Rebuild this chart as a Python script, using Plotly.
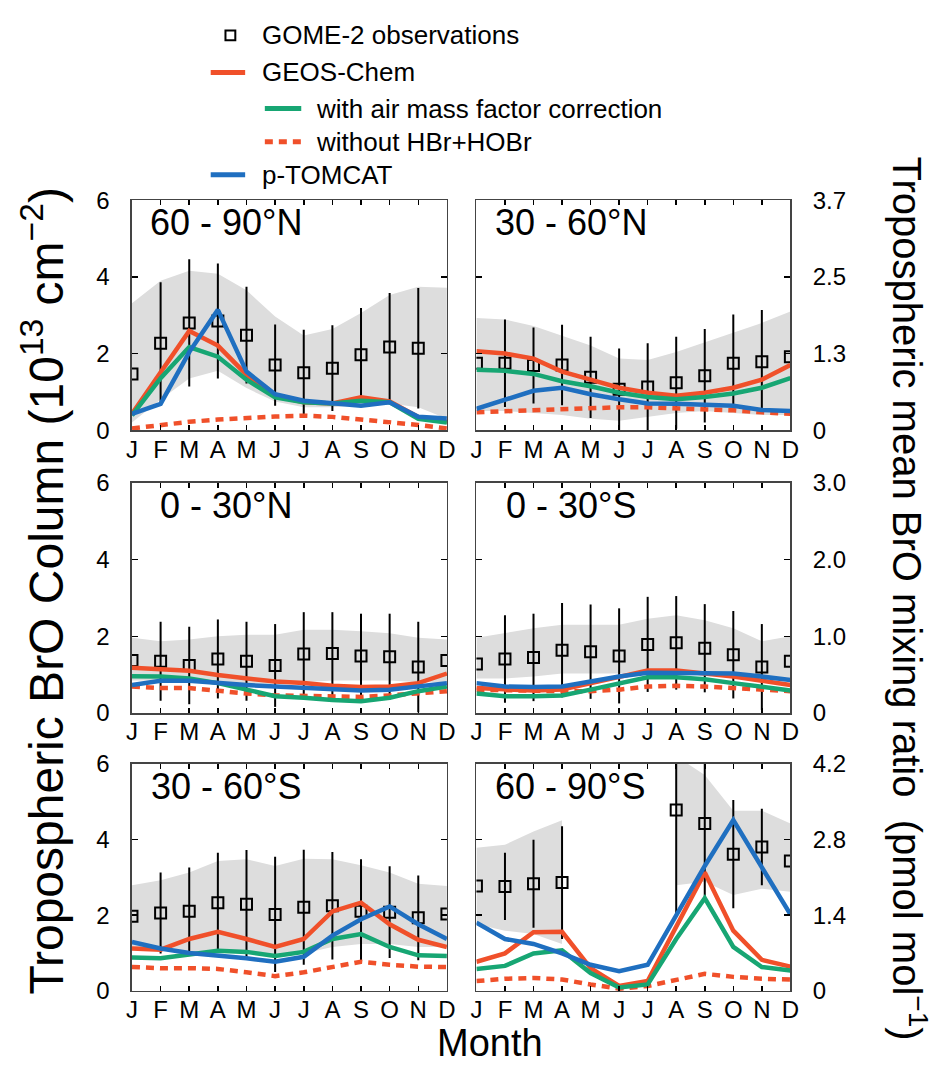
import plotly.graph_objects as go

# ---------------- data ----------------
months = list(range(1, 13))
month_labels = ["J", "F", "M", "A", "M", "J", "J", "A", "S", "O", "N", "D"]
left_ticks = ["0", "2", "4", "6"]
right_ticks_top = ["0", "1.3", "2.5", "3.7"]
right_ticks_mid = ["0", "1.0", "2.0", "3.0"]
right_ticks_bot = ["0", "1.4", "2.8", "4.2"]

region_names = ["60 - 90°N", "30 - 60°N", "0 - 30°N", "0 - 30°S", "30 - 60°S", "60 - 90°S"]

# GOME-2 observations (10^13 cm^-2) and their spread
obs_n6090 = [1.47, 2.27, 2.80, 2.85, 2.48, 1.70, 1.50, 1.62, 1.97, 2.17, 2.14, None]
err_n6090 = [0, 1.59, 1.66, 1.50, 1.26, 1.06, 1.12, 1.12, 1.22, 1.41, 1.57, 0]
hi_n6090 = [3.31, 3.90, 4.16, 4.08, 3.65, 2.97, 2.47, 2.64, 3.06, 3.53, 3.74, 3.72]
lo_n6090 = [0.20, 0.80, 1.35, 1.55, 1.10, 0.75, 0.60, 0.60, 0.65, 0.70, 0.60, 0.30]

obs_n3060 = [1.75, 1.75, 1.69, 1.70, 1.38, 1.07, 1.13, 1.24, 1.42, 1.75, 1.79, 1.92]
err_n3060 = [0, 1.14, 0.99, 1.05, 1.06, 1.06, 1.14, 1.20, 1.22, 1.27, 1.35, 0]
hi_n3060 = [2.93, 2.89, 2.72, 2.47, 2.21, 1.87, 1.83, 2.04, 2.30, 2.55, 2.80, 3.10]
lo_n3060 = [0.50, 0.50, 0.45, 0.40, 0.30, 0.25, 0.35, 0.45, 0.50, 0.45, 0.40, 0.40]

obs_n0030 = [1.37, 1.35, 1.24, 1.41, 1.35, 1.24, 1.54, 1.55, 1.49, 1.47, 1.20, 1.37]
err_n0030 = [0, 1.03, 1.01, 1.03, 1.03, 1.08, 1.09, 1.08, 1.10, 1.12, 1.18, 0]
hi_n0030 = [1.96, 1.87, 1.92, 2.00, 2.04, 2.04, 2.17, 2.17, 2.13, 2.08, 1.96, 1.92]
lo_n0030 = [0.85, 0.85, 0.85, 0.80, 0.75, 0.75, 0.80, 0.85, 0.85, 0.85, 0.80, 0.80]

obs_s0030 = [1.28, 1.41, 1.45, 1.64, 1.60, 1.49, 1.79, 1.83, 1.69, 1.52, 1.20, 1.35]
err_s0030 = [0, 1.14, 1.14, 1.23, 1.23, 1.24, 1.24, 1.22, 1.15, 1.14, 1.12, 0]
hi_s0030 = [1.96, 2.08, 2.21, 2.30, 2.30, 2.30, 2.46, 2.55, 2.42, 2.21, 1.87, 2.00]
lo_s0030 = [0.90, 0.90, 0.95, 1.03, 1.03, 1.03, 1.11, 1.11, 1.07, 1.03, 0.90, 0.90]

obs_s3060 = [1.97, 2.06, 2.10, 2.33, 2.29, 2.02, 2.21, 2.25, 2.10, 2.08, 1.93, 2.03]
err_s3060 = [0, 1.07, 1.16, 1.32, 1.43, 1.52, 1.52, 1.42, 1.38, 1.21, 1.12, 0]
hi_s3060 = [2.79, 2.92, 3.13, 3.43, 3.48, 3.30, 3.49, 3.48, 3.32, 3.13, 2.83, 2.77]
lo_s3060 = [1.16, 1.12, 1.03, 1.03, 1.00, 0.90, 0.99, 1.16, 1.24, 1.24, 1.16, 1.16]

obs_s6090 = [2.77, 2.76, 2.83, 2.86, None, None, None, 4.78, 4.42, 3.61, 3.80, 3.43]
err_s6090 = [0, 0.89, 1.16, 1.49, 0, 0, 0, 2.75, 1.93, 1.43, 1.01, 0]
hi_s6090 = [3.78, 3.86, 4.21, 4.51, None, None, None, 6.20, 5.70, 4.76, 4.76, 4.42]
lo_s6090 = [1.76, 1.59, 1.50, 1.24, None, None, None, 2.79, 2.88, 2.53, 2.70, 2.62]

# GEOS-Chem
geos_n6090 = [0.43, 1.53, 2.59, 2.21, 1.45, 0.90, 0.73, 0.70, 0.86, 0.75, 0.35, 0.22]
geos_n3060 = [2.06, 2.00, 1.87, 1.53, 1.32, 1.11, 0.98, 0.90, 0.98, 1.11, 1.32, 1.70]
geos_n0030 = [1.18, 1.13, 1.10, 0.99, 0.90, 0.82, 0.78, 0.71, 0.68, 0.69, 0.78, 1.03]
geos_s0030 = [0.65, 0.61, 0.59, 0.61, 0.78, 0.95, 1.11, 1.11, 1.03, 0.95, 0.84, 0.73]
geos_s3060 = [1.12, 1.09, 1.37, 1.56, 1.37, 1.16, 1.37, 2.10, 2.33, 1.76, 1.35, 1.16]
geos_s6090 = [0.77, 0.99, 1.55, 1.56, 0.60, 0.13, 0.26, 1.67, 3.13, 1.59, 0.82, 0.64]

# GEOS-Chem with air mass factor correction
amf_n6090 = [0.39, 1.36, 2.17, 1.92, 1.32, 0.86, 0.73, 0.70, 0.77, 0.73, 0.30, 0.20]
amf_n3060 = [1.58, 1.55, 1.47, 1.28, 1.15, 0.98, 0.87, 0.81, 0.87, 0.96, 1.11, 1.36]
amf_n0030 = [0.96, 0.95, 0.90, 0.78, 0.61, 0.44, 0.40, 0.34, 0.31, 0.40, 0.57, 0.69]
amf_s0030 = [0.51, 0.44, 0.44, 0.46, 0.61, 0.78, 0.93, 0.93, 0.88, 0.78, 0.69, 0.59]
amf_s3060 = [0.88, 0.86, 0.96, 1.06, 1.03, 0.92, 1.03, 1.37, 1.50, 1.16, 0.94, 0.92]
amf_s6090 = [0.58, 0.66, 0.99, 1.07, 0.47, 0.09, 0.17, 1.37, 2.45, 1.16, 0.63, 0.54]

# GEOS-Chem without HBr+HOBr
nohbr_n6090 = [0.05, 0.14, 0.22, 0.28, 0.33, 0.36, 0.38, 0.35, 0.28, 0.22, 0.14, 0.05]
nohbr_n3060 = [0.47, 0.50, 0.52, 0.56, 0.58, 0.60, 0.60, 0.58, 0.56, 0.52, 0.47, 0.43]
nohbr_n0030 = [0.69, 0.65, 0.65, 0.57, 0.51, 0.46, 0.44, 0.42, 0.42, 0.46, 0.51, 0.57]
nohbr_s0030 = [0.61, 0.59, 0.57, 0.57, 0.57, 0.61, 0.69, 0.71, 0.69, 0.65, 0.61, 0.57]
nohbr_s3060 = [0.63, 0.60, 0.60, 0.58, 0.49, 0.39, 0.49, 0.63, 0.77, 0.69, 0.64, 0.63]
nohbr_s6090 = [0.26, 0.32, 0.34, 0.30, 0.17, 0.06, 0.13, 0.30, 0.45, 0.37, 0.32, 0.30]

# p-TOMCAT
tomcat_n6090 = [0.43, 0.69, 2.04, 3.14, 1.53, 0.94, 0.77, 0.70, 0.64, 0.73, 0.35, 0.31]
tomcat_n3060 = [0.56, 0.81, 1.03, 1.11, 0.94, 0.81, 0.70, 0.69, 0.67, 0.64, 0.53, 0.50]
tomcat_n0030 = [0.73, 0.84, 0.84, 0.78, 0.73, 0.69, 0.65, 0.61, 0.59, 0.61, 0.69, 0.78]
tomcat_s0030 = [0.78, 0.69, 0.68, 0.69, 0.82, 0.95, 1.05, 1.05, 1.03, 1.03, 0.95, 0.86]
tomcat_s3060 = [1.29, 1.12, 1.00, 0.94, 0.86, 0.77, 0.90, 1.46, 1.89, 2.23, 1.76, 1.37]
tomcat_s6090 = [1.80, 1.37, 1.24, 0.99, 0.69, 0.52, 0.69, 1.97, 3.30, 4.51, 3.26, 2.02]

panels = [
    (obs_n6090, err_n6090, hi_n6090, lo_n6090, geos_n6090, amf_n6090, nohbr_n6090, tomcat_n6090),
    (obs_n3060, err_n3060, hi_n3060, lo_n3060, geos_n3060, amf_n3060, nohbr_n3060, tomcat_n3060),
    (obs_n0030, err_n0030, hi_n0030, lo_n0030, geos_n0030, amf_n0030, nohbr_n0030, tomcat_n0030),
    (obs_s0030, err_s0030, hi_s0030, lo_s0030, geos_s0030, amf_s0030, nohbr_s0030, tomcat_s0030),
    (obs_s3060, err_s3060, hi_s3060, lo_s3060, geos_s3060, amf_s3060, nohbr_s3060, tomcat_s3060),
    (obs_s6090, err_s6090, hi_s6090, lo_s6090, geos_s6090, amf_s6090, nohbr_s6090, tomcat_s6090),
]
right_ticks = [right_ticks_top, right_ticks_mid, right_ticks_bot]

# ---------------- styling ----------------
W, H = 947, 1077
RED = "#F0502A"
GREEN = "#17A673"
BLUE = "#1F6FC0"
BAND = "#DDDDDD"
FONT = "Liberation Sans, Arial, Helvetica, sans-serif"


def px(x):
    return x / W


def py(y):
    return 1 - y / H


col_x = [(128, 448), (478, 797)]
row_y = [(191, 427), (481, 717), (769, 1002)]

fig = go.Figure()

for i, (obs, err, hi, lo, geos, amf, nohbr, tomcat) in enumerate(panels):
    r, c = divmod(i, 2)
    xa = "x" if i == 0 else f"x{i+1}"
    ya = "y" if i == 0 else f"y{i+1}"

    # gray spread band: one polygon per contiguous run of months
    seg = []
    segments = []
    for m, h, l in zip(months, hi, lo):
        if h is None:
            if seg:
                segments.append(seg)
            seg = []
        else:
            seg.append((m, h, l))
    if seg:
        segments.append(seg)
    for s in segments:
        bx = [p[0] for p in s] + [p[0] for p in reversed(s)]
        by = [p[1] for p in s] + [p[2] for p in reversed(s)]
        fig.add_trace(go.Scatter(x=bx, y=by, xaxis=xa, yaxis=ya, mode="lines",
                                 fill="toself", fillcolor=BAND, line=dict(width=0),
                                 hoverinfo="skip", showlegend=False))

    # observations
    fig.add_trace(go.Scatter(x=months, y=obs, xaxis=xa, yaxis=ya, mode="markers",
                             marker=dict(symbol="square-open", size=11, color="black",
                                         line=dict(width=2, color="black")),
                             error_y=dict(type="data", array=err, symmetric=True,
                                          color="black", thickness=2, width=0),
                             showlegend=False))
    # models
    fig.add_trace(go.Scatter(x=months, y=nohbr, xaxis=xa, yaxis=ya, mode="lines",
                             line=dict(color=RED, width=4.5, dash="8px,6px"), showlegend=False))
    fig.add_trace(go.Scatter(x=months, y=geos, xaxis=xa, yaxis=ya, mode="lines",
                             line=dict(color=RED, width=4.5), showlegend=False))
    fig.add_trace(go.Scatter(x=months, y=amf, xaxis=xa, yaxis=ya, mode="lines",
                             line=dict(color=GREEN, width=4.5), showlegend=False))
    fig.add_trace(go.Scatter(x=months, y=tomcat, xaxis=xa, yaxis=ya, mode="lines",
                             line=dict(color=BLUE, width=4.5), showlegend=False))

    x0, x1 = col_x[c]
    y0, y1 = row_y[r]
    xkey = "xaxis" if i == 0 else f"xaxis{i+1}"
    ykey = "yaxis" if i == 0 else f"yaxis{i+1}"
    fig.layout[xkey] = dict(domain=[px(x0), px(x1)], anchor=ya, range=[1, 12],
                            tickmode="array", tickvals=months, ticktext=month_labels,
                            ticks="inside", ticklen=5, tickwidth=1.5, tickcolor="black",
                            showline=True, linecolor="#444444", linewidth=1.5,
                            mirror="ticks", showgrid=False, zeroline=False,
                            tickfont=dict(family=FONT, size=24, color="black"),
                            ticklabelstandoff=-3, fixedrange=True)
    ydict = dict(domain=[py(y1), py(y0)], anchor=xa, range=[0, 6],
                 tickmode="array", tickvals=[0, 2, 4, 6],
                 ticks="inside", ticklen=6, tickwidth=1.5, tickcolor="black",
                 showline=True, linecolor="#444444", linewidth=1.5,
                 mirror="ticks", showgrid=False, zeroline=False,
                 tickfont=dict(family=FONT, size=24, color="black"),
                 ticklabelstandoff=16, fixedrange=True)
    if c == 0:
        ydict.update(side="left", ticktext=left_ticks)
    else:
        ydict.update(side="right", ticktext=right_ticks[r])
    fig.layout[ykey] = ydict

    # region label
    fig.add_annotation(x=px(x0 + 96), y=py(y0 + 23), xref="paper", yref="paper",
                       text=region_names[i], showarrow=False, xanchor="center",
                       yanchor="middle", font=dict(family=FONT, size=36, color="black"))

# axis titles
fig.add_annotation(x=px(38), y=py(592), xref="paper", yref="paper", showarrow=False,
                   text="Tropospheric BrO Column (10<sup>13</sup> cm<sup>−2</sup>)",
                   textangle=-90, xanchor="center", yanchor="middle",
                   font=dict(family=FONT, size=48, color="black"))
fig.add_annotation(x=px(918), y=py(600), xref="paper", yref="paper", showarrow=False,
                   text="Tropospheric mean BrO mixing ratio  (pmol mol<sup>−1</sup>)",
                   textangle=90, xanchor="center", yanchor="middle",
                   font=dict(family=FONT, size=40, color="black"))
fig.add_annotation(x=px(492), y=py(1055), xref="paper", yref="paper", showarrow=False,
                   text="Month", xanchor="center", yanchor="middle",
                   font=dict(family=FONT, size=38, color="black"))

# legend (drawn manually to reproduce the indented layout)
legend_rows = [
    ("GOME-2 observations", 258, 22, "square", None),
    ("GEOS-Chem", 258, 60, "line", RED),
    ("with air mass factor correction", 313, 97, "line2", GREEN),
    ("without HBr+HOBr", 313, 131, "dash2", RED),
    ("p-TOMCAT", 258, 165, "line", BLUE),
]
for text, tx, ty, kind, colr in legend_rows:
    fig.add_annotation(x=px(tx), y=py(ty), xref="paper", yref="paper", showarrow=False,
                       text=text, xanchor="left", yanchor="middle",
                       font=dict(family=FONT, size=26, color="black"))
    if kind == "square":
        fig.add_shape(type="rect", xref="paper", yref="paper",
                      x0=px(223), x1=px(233), y0=py(ty + 5), y1=py(ty - 5),
                      line=dict(color="black", width=2))
    elif kind == "line":
        fig.add_shape(type="line", xref="paper", yref="paper",
                      x0=px(208), x1=px(243), y0=py(ty), y1=py(ty),
                      line=dict(color=colr, width=5))
    elif kind == "line2":
        fig.add_shape(type="line", xref="paper", yref="paper",
                      x0=px(263), x1=px(300), y0=py(ty), y1=py(ty),
                      line=dict(color=colr, width=5))
    else:
        fig.add_shape(type="line", xref="paper", yref="paper",
                      x0=px(263), x1=px(300), y0=py(ty), y1=py(ty),
                      line=dict(color=colr, width=5, dash="8px,6px"))

fig.update_layout(width=W, height=H, autosize=False,
                  margin=dict(l=0, r=0, t=0, b=0),
                  paper_bgcolor="white", plot_bgcolor="white",
                  showlegend=False, font=dict(family=FONT, color="black"))

# remove the browser's default page margin so the figure fills the window exactly
fig.write_html("out.html",
               config={"displayModeBar": False, "staticPlot": True},
               post_script="document.body.style.margin='0';document.body.style.overflow='hidden';")
